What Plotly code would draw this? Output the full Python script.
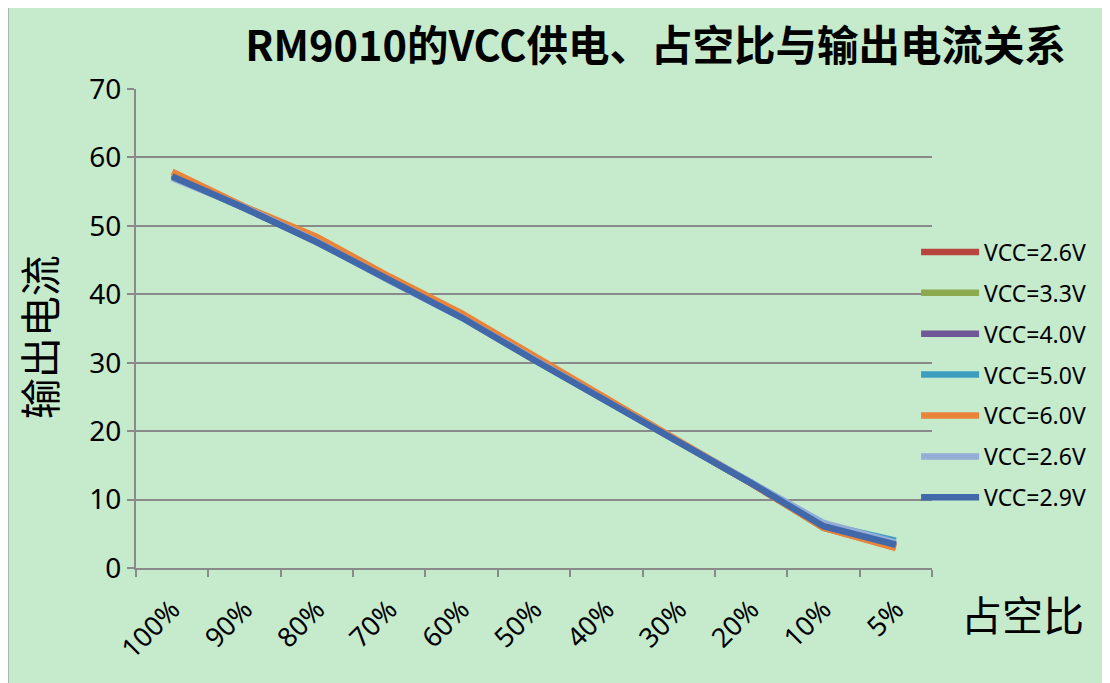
import plotly.graph_objects as go

categories = ["100%", "90%", "80%", "70%", "60%", "50%", "40%", "30%", "20%", "10%", "5%"]
y_ticks = [0, 10, 20, 30, 40, 50, 60, 70]

series_names = ["VCC=2.6V", "VCC=3.3V", "VCC=4.0V", "VCC=5.0V", "VCC=6.0V", "VCC=2.6V", "VCC=2.9V"]
vcc_2_6a = [57.5, 52.7, 48.0, 42.3, 36.9, 30.6, 24.6, 18.5, 12.4, 5.9, 3.0]
vcc_3_3 = [57.4, 52.7, 47.9, 42.2, 36.8, 30.5, 24.5, 18.4, 12.4, 6.0, 3.2]
vcc_4_0 = [57.3, 52.6, 47.8, 42.1, 36.7, 30.5, 24.5, 18.4, 12.4, 6.1, 3.3]
vcc_5_0 = [57.3, 52.6, 47.8, 42.1, 36.7, 30.5, 24.4, 18.4, 12.5, 6.4, 4.0]
vcc_6_0 = [57.9, 52.8, 48.4, 42.6, 37.2, 30.9, 24.8, 18.6, 12.4, 5.9, 2.9]
vcc_2_6b = [57.0, 52.7, 47.7, 42.0, 36.6, 30.4, 24.4, 18.4, 12.6, 6.6, 3.7]
vcc_2_9 = [57.2, 52.6, 47.6, 42.0, 36.6, 30.4, 24.4, 18.4, 12.4, 6.1, 3.4]

series_values = [vcc_2_6a, vcc_3_3, vcc_4_0, vcc_5_0, vcc_6_0, vcc_2_6b, vcc_2_9]
colors = ["#B8443F", "#8EAA4E", "#705896", "#3C9DBF", "#E9853A", "#93ADD6", "#4169A9"]

BG = "#C6EBCC"
GRID = "#8A8A8A"
FONT = "Noto Sans, Noto Sans CJK SC, sans-serif"
CJK = "Noto Sans CJK SC, Noto Sans, sans-serif"

fig = go.Figure()
for i, (name, vals, col) in enumerate(zip(series_names, series_values, colors)):
    fig.add_trace(go.Scatter(
        x=categories, y=vals, name=name, mode="lines",
        line=dict(color=col, width=6.5),
        legendgroup="g%d" % i,
    ))

fig.update_layout(
    width=1110, height=683,
    margin=dict(l=128, r=186, t=81, b=123),
    paper_bgcolor="white",
    plot_bgcolor=BG,
    font=dict(family=FONT, color="black", size=22),
    title=dict(
        text="<b>RM9010的VCC供电、占空比与输出电流关系</b>",
        font=dict(size=41.5, family=CJK, color="black"),
        x=0.5834, xanchor="center", y=0.943, yanchor="middle",
    ),
    showlegend=True,
    legend=dict(
        x=0.980, xanchor="left", y=0.403, yanchor="middle",
        bgcolor="rgba(0,0,0,0)", font=dict(size=23, family=FONT),
        tracegroupgap=8, itemwidth=58,
    ),
    shapes=[dict(
        type="rect", xref="paper", yref="paper",
        x0=-0.1614, x1=1.3, y0=-0.4, y1=1.1764,
        line=dict(color="#8C8C8C", width=2), fillcolor=BG, layer="below",
    )],
    annotations=[
        dict(text="输出电流", xref="paper", yref="paper", x=-0.123, y=0.482,
             xanchor="center", yanchor="middle", textangle=-90, showarrow=False,
             font=dict(size=41, family=CJK, color="black")),
        dict(text="占空比", xref="paper", yref="paper", x=1.114, y=-0.094,
             xanchor="center", yanchor="middle", showarrow=False,
             font=dict(size=41, family=CJK, color="black")),
    ],
)

fig.update_xaxes(
    type="category", categoryorder="array", categoryarray=categories,
    showline=True, linecolor=GRID, linewidth=2,
    ticks="outside", ticklen=7, tickcolor=GRID, tickwidth=2,
    tickson="boundaries", showgrid=False, tickangle=-45,
    tickfont=dict(size=27), range=[-0.5, 10.5], ticklabelstandoff=13,
)
fig.update_yaxes(
    range=[0, 70], tickvals=y_ticks,
    showline=True, linecolor=GRID, linewidth=2,
    ticks="outside", ticklen=7, tickcolor=GRID, tickwidth=2,
    showgrid=True, gridcolor=GRID, gridwidth=2,
    zeroline=False, tickfont=dict(size=28),
)

fig.write_html("out.html")
